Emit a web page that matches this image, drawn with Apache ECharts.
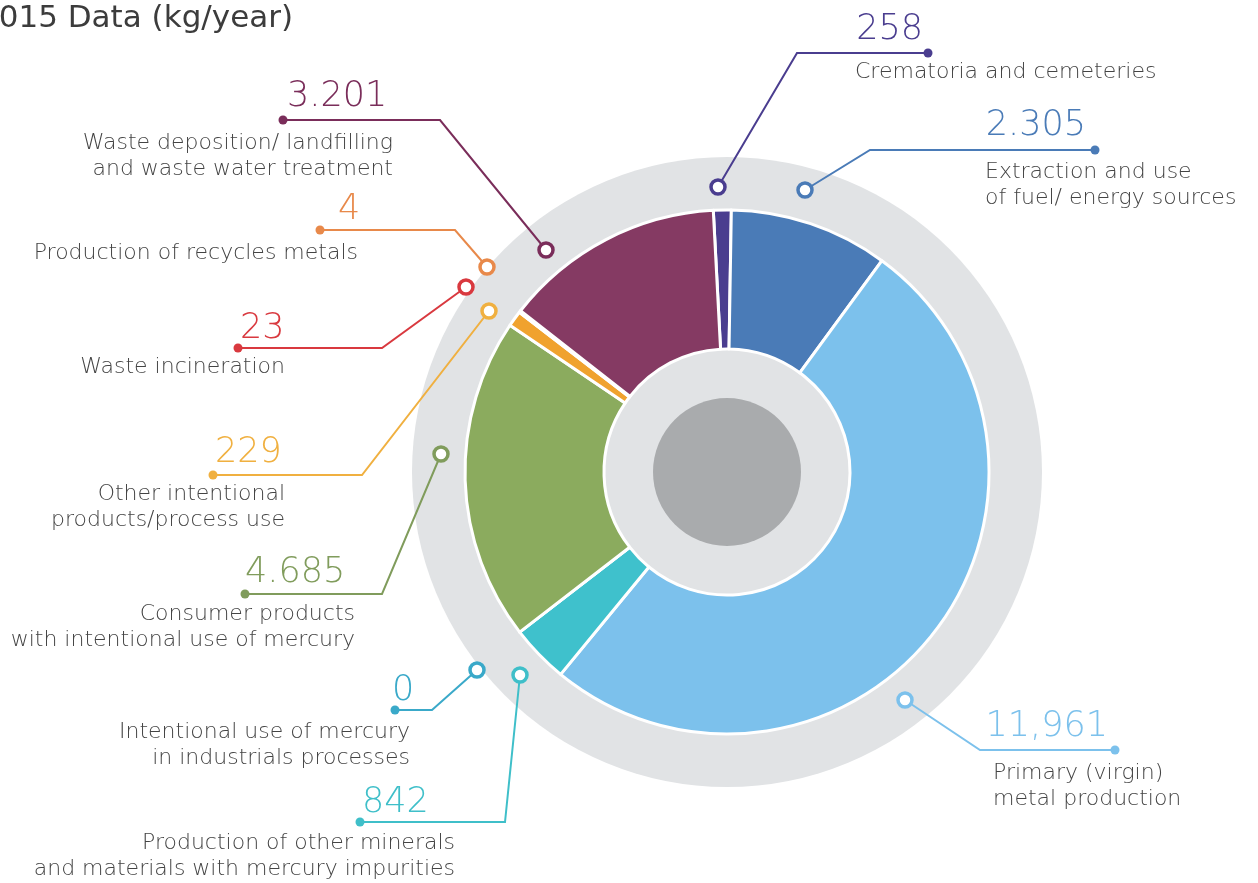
<!DOCTYPE html>
<html>
<head>
<meta charset="utf-8">
<script src="https://cdn.jsdelivr.net/npm/echarts@6/dist/echarts.min.js"></script>
<style>
html,body{margin:0;padding:0;background:#fff;}
#chart{width:1258px;height:883px;}
</style>
</head>
<body>
<div id="chart"></div>
<script>
// ---- data ----
const categories = [
  'Crematoria and cemeteries',
  'Extraction and use\nof fuel/ energy sources',
  'Primary (virgin)\nmetal production',
  'Production of other minerals\nand materials with mercury impurities',
  'Intentional use of mercury\nin industrials processes',
  'Consumer products\nwith intentional use of mercury',
  'Other intentional\nproducts/process use',
  'Waste incineration',
  'Production of recycles metals',
  'Waste deposition/ landfilling\nand waste water treatment'
];
const values = [258, 2305, 11961, 842, 0, 4685, 229, 23, 4, 3201];
const valueLabels = ['258', '2.305', '11,961', '842', '0', '4.685', '229', '23', '4', '3.201'];
const titleText = '2015 Data (kg/year)';

// ---- styles ----
const sliceColors = ['#4a3d8f', '#4a7bb7', '#7cc1ec', '#3fc1cc', '#2fa7d3', '#8bab5e', '#f0a22e', '#d9393f', '#e88a3c', '#853a63'];
const labelColors = ['#4a3d8f', '#4a7bb7', '#7cc1ec', '#3fbfc9', '#3aa9c9', '#809c5c', '#f0b040', '#d9393f', '#e8894a', '#7a2d5a'];

// ---- annotation layout (pixels) ----
// marker on ring, elbow, end dot, value text anchor, description anchor
const layout = [
  {m:[718,187], e:[797,53],  d:[928,53],  v:[923,30,'right'],  t:[855,59,'left']},
  {m:[805,190], e:[870,150], d:[1095,150],v:[1086,126,'right'], t:[985,159,'left']},
  {m:[905,700], e:[980,750], d:[1115,750],v:[1108,727,'right'], t:[993,760,'left']},
  {m:[520,675], e:[505,822], d:[360,822], v:[362,803,'left'],  t:[455,830,'right']},
  {m:[477,670], e:[432,710], d:[395,710], v:[392,691,'left'],  t:[410,719,'right']},
  {m:[441,454], e:[382,594], d:[245,594], v:[245,573,'left'],  t:[355,601,'right']},
  {m:[489,311], e:[362,475], d:[213,475], v:[215,453,'left'],  t:[285,481,'right']},
  {m:[466,287], e:[382,348], d:[238,348], v:[240,329,'left'],  t:[285,354,'right']},
  {m:[487,267], e:[455,230], d:[320,230], v:[338,210,'left'],  t:[358,240,'right']},
  {m:[546,250], e:[440,120], d:[283,120], v:[287,97,'left'],   t:[393,130,'right']}
];

const FONT = '"DejaVu Sans", sans-serif';
const CENTER = [727, 472];

const graphics = [];
graphics.push({
  type: 'text', left: -21, top: 3, z: 20,
  style: {text: titleText, fill: '#3c3c3c', font: '400 31px ' + FONT}
});
layout.forEach((L, i) => {
  const c = labelColors[i];
  graphics.push({
    type: 'polyline', z: 10, silent: true,
    shape: {points: [L.m, L.e, L.d]},
    style: {stroke: c, lineWidth: 2, fill: null}
  });
  graphics.push({
    type: 'circle', z: 12, silent: true,
    shape: {cx: L.d[0], cy: L.d[1], r: 4.5},
    style: {fill: c}
  });
  graphics.push({
    type: 'circle', z: 12, silent: true,
    shape: {cx: L.m[0], cy: L.m[1], r: 7},
    style: {fill: '#fff', stroke: c, lineWidth: 3.5}
  });
  graphics.push({
    type: 'text', z: 12, silent: true,
    x: L.v[0], y: L.v[1],
    style: {text: valueLabels[i], fill: c, font: '200 35px ' + FONT,
            align: L.v[2], verticalAlign: 'middle'}
  });
  graphics.push({
    type: 'text', z: 12, silent: true,
    x: L.t[0], y: L.t[1],
    style: {text: categories[i], fill: '#444', font: '200 22px ' + FONT,
            align: L.t[2], verticalAlign: 'top', lineHeight: 26}
  });
});

const chart = echarts.init(document.getElementById('chart'), null, {renderer: 'canvas'});
chart.setOption({
  backgroundColor: '#ffffff',
  animation: false,
  series: [
    {
      type: 'pie', center: CENTER, radius: [0, 315], silent: true, z: 1,
      label: {show: false}, labelLine: {show: false},
      itemStyle: {color: '#e1e3e5'},
      data: [{value: 1, name: 'bg'}]
    },
    {
      type: 'pie', center: CENTER, radius: [123, 262], startAngle: 93, clockwise: true,
      silent: true, z: 2, minAngle: 0, avoidLabelOverlap: false,
      label: {show: false}, labelLine: {show: false},
      itemStyle: {borderColor: '#ffffff', borderWidth: 3},
      data: categories.map((n, i) => ({name: n, value: values[i], itemStyle: {color: sliceColors[i]}}))
    },
    {
      type: 'pie', center: CENTER, radius: [0, 74], silent: true, z: 3,
      label: {show: false}, labelLine: {show: false},
      itemStyle: {color: '#a9abad'},
      data: [{value: 1, name: 'core'}]
    }
  ],
  graphic: graphics
});
</script>
</body>
</html>
